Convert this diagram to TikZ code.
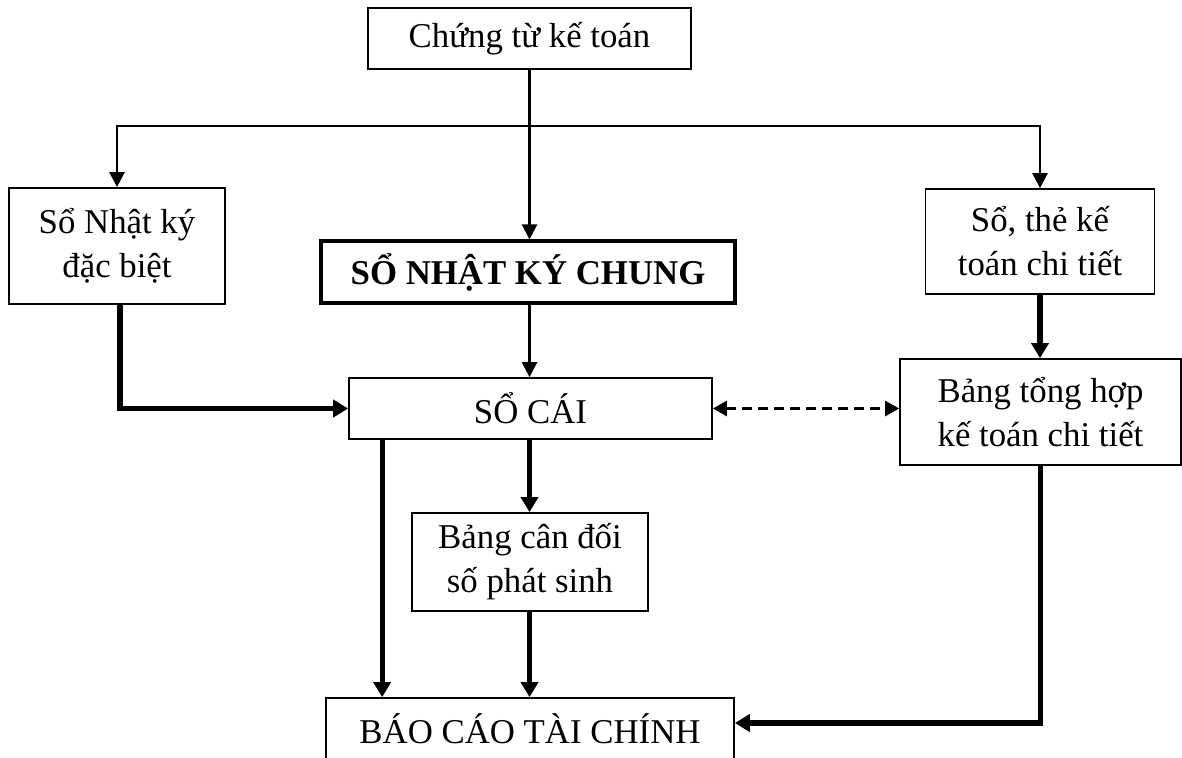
\documentclass[tikz,border=0pt]{standalone}
\usepackage{fontspec}
\setmainfont{Liberation Serif}
\usepackage{tikz}
\usetikzlibrary{positioning}
\usetikzlibrary{arrows.meta}
\tikzset{%
  thinarrow/.style = {-{Triangle[length=0.3cm,width=0.3cm]},line width=1.4pt},
  thickarrow/.style = {-{Triangle[length=0.3cm,width=0.34cm]},line width=3pt},
  dasharrow/.style = {{Triangle[length=0.28cm,width=0.3cm]}-{Triangle[length=0.28cm,width=0.3cm]},
        line width=1.5pt,dash pattern=on 0.2cm off 0.12cm},
  b/.style = {rectangle,draw,line width=1pt,align=center,inner sep=0pt,
        font=\fontsize{19.8}{25}\selectfont},
  bb/.style = {b,line width=1.8pt,font=\fontsize{19.8}{25}\selectfont\bfseries}
}
\begin{document}
\begin{tikzpicture}[x=0.02cm,y=-0.02cm]
                \useasboundingbox[fill=white] (0,0) rectangle (1182,757);
                \node[b,minimum width=6.46cm,minimum height=1.22cm] (ct) at (529.5,38.5) {Chứng từ kế toán};
                \node[b,minimum width=4.32cm,minimum height=2.32cm] (nkdb) at (117,246) {Sổ Nhật ký\\đặc biệt};
                \node[bb,minimum width=8.28cm,minimum height=1.24cm] (nkc) at (528,272) {SỔ NHẬT KÝ CHUNG};
                \node[b,minimum width=4.58cm,minimum height=2.1cm] (sct) at (1040,241.5) {Sổ, thẻ kế\\toán chi tiết};
                \node[b,minimum width=7.26cm,minimum height=1.22cm] (sc) at (530.5,408.5) {SỔ CÁI};
                \node[b,minimum width=5.62cm,minimum height=2.12cm] (bth) at (1040.5,412) {Bảng tổng hợp\\kế toán chi tiết};
                \node[b,minimum width=4.72cm,minimum height=1.96cm] (bcd) at (530,562) {Bảng cân đối\\số phát sinh};
                \node[b,minimum width=8.16cm,minimum height=1.22cm] (bctc) at (530,728.5) {BÁO CÁO TÀI CHÍNH};
                \coordinate (split) at (ct.south |- 0,126);

                \draw[line width=1.4pt] (ct.south) -- (split);
                \draw[thinarrow] (split) -- (split |- nkc.north);
                \draw[thinarrow] (split) -| (nkdb.north);
                \draw[thinarrow] (split) -| (sct.north);
                \draw[thinarrow] (nkc.south -| split) -- (split |- sc.north);
                \draw[thickarrow] ([xshift=0.06cm]nkdb.south) |- (sc.west);
                \draw[dasharrow] (sc.east) -- (sc.east -| bth.west);
                \draw[thickarrow] (sct.south) -- (sct.south |- bth.north);
                \draw[thickarrow] (sc.south -| split) -- (bcd.north -| split);
                \draw[thickarrow] (bcd.south -| split) -- (bctc.north -| split);
                \draw[thickarrow] ([xshift=0.68cm]sc.south west) -- ([xshift=0.68cm]sc.south west |- bctc.north);
                \draw[thickarrow] (bth.south) |- ([yshift=0.11cm]bctc.east);
\end{tikzpicture}
\end{document}
